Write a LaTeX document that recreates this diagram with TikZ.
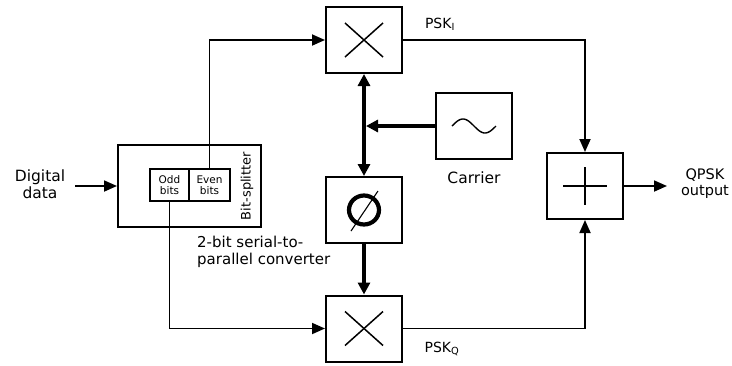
\documentclass[tikz,border=0pt]{standalone}
\usepackage{fontspec}
\setmainfont{DejaVu Sans}
\usetikzlibrary{arrows.meta}
\begin{document}
\begin{tikzpicture}[x=1pt,y=-1pt,
  box/.style={draw, line width=2pt, minimum width=76pt, minimum height=66pt, inner sep=0pt},
  conn/.style={line width=1.8pt, -{Triangle[length=13pt,width=11pt]}},
  tconn/.style={line width=3.4pt, -{Triangle[length=12pt,width=12pt]}},
  lbl/.style={font=\fontsize{15.5}{17}\selectfont, align=center, inner sep=0pt},
  slbl/.style={font=\fontsize{10.5}{11}\selectfont, align=center, inner sep=0pt},
  sym/.style={line width=1.5pt}
]
\useasboundingbox (0,0) rectangle (732,365);
% blocks
\node[box] (m1) at (364,40) {};
\node[box] (ph) at (364,210) {};
\node[box] (m2) at (364,328.5) {};
\node[box] (car) at (474,126) {};
\node[box] (add) at (585,186) {};
\node[draw, line width=2pt, minimum width=143pt, minimum height=82pt, inner sep=0pt] (bs) at (189.5,186) {};
\node[draw, line width=1.8pt, minimum width=39pt, minimum height=32pt, slbl] (odd) at (169.5,185) {Odd\\bits};
\node[draw, line width=1.8pt, minimum width=41pt, minimum height=32pt, slbl] (even) at (209.5,185) {Even\\bits};
% symbols
\draw[sym] ([shift={(-19,-17)}]m1.center) -- ([shift={(19,17)}]m1.center);
\draw[sym] ([shift={(-19,17)}]m1.center) -- ([shift={(19,-17)}]m1.center);
\draw[sym] ([shift={(-19,-17)}]m2.center) -- ([shift={(19,17)}]m2.center);
\draw[sym] ([shift={(-19,17)}]m2.center) -- ([shift={(19,-17)}]m2.center);
\draw[line width=2.2pt] ([shift={(-22,0)}]add.center) -- ([shift={(22,0)}]add.center);
\draw[line width=2.2pt] ([shift={(0,-19)}]add.center) -- ([shift={(0,19)}]add.center);
\draw[line width=1.4pt, shift={(car.center)}] plot[domain=-22:22, samples=50, smooth] (\x, {7*sin(\x*360/44)});
\draw[line width=4.2pt] (ph.center) ellipse [x radius=15, y radius=14.5];
\draw[line width=1.1pt] ([shift={(14,-19)}]ph.center) -- ([shift={(-13,21)}]ph.center);
% connectors
\coordinate (din) at (75,186);
\coordinate (out) at (667,186);
\coordinate (j) at (366,126);
\draw[conn] (din) -- (bs.west);
\draw[conn] (even.north) |- (m1.west);
\draw[conn] (odd.south) |- (m2.west);
\draw[conn] (m1.east) -| (add.north);
\draw[conn] (m2.east) -| (add.south);
\draw[conn] (add.east) -- (out);
\draw[tconn, {Triangle[length=12pt,width=12pt]}-{Triangle[length=12pt,width=12pt]}] (m1.south) -- (ph.north);
\draw[tconn] (car.west) -- (j);
\draw[tconn] (ph.south) -- (m2.north);
% labels
\node[lbl] (dd) at (40,184) {Digital\\data};
\node[lbl, rotate=90, font=\fontsize{13}{15}\selectfont] (bsl) at (247,186) {Bit-splitter};
\node[lbl, align=left, anchor=north west, font=\fontsize{15}{16.5}\selectfont] (conv) at (197,236) {2-bit serial-to-\\parallel converter};
\node[lbl] (carl) at (474,178) {Carrier};
\node[lbl, font=\fontsize{14}{15}\selectfont] (psi) at (440,24) {PSK\textsubscript{I}};
\node[lbl, font=\fontsize{14}{15}\selectfont] (psq) at (442,349) {PSK\textsubscript{Q}};
\node[lbl, font=\fontsize{14.5}{16}\selectfont] (qo) at (705,184) {QPSK\\output};
\end{tikzpicture}
\end{document}
